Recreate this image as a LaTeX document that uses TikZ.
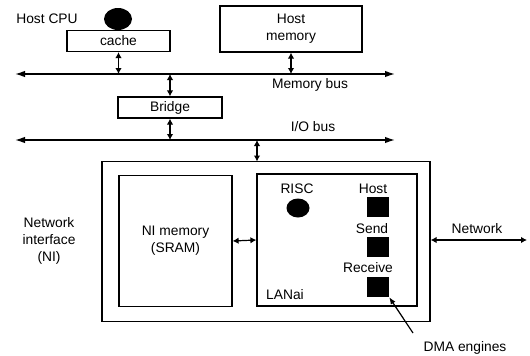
\documentclass[tikz,border=0pt]{standalone}
\usepackage{fontspec}
\setmainfont{Liberation Sans}
\usetikzlibrary{arrows.meta,shapes.geometric}
\begin{document}
\begin{tikzpicture}[x=1pt,y=-1pt,
  font=\fontsize{13.8}{17}\selectfont,
  box/.style={draw,line width=1.2pt,inner sep=0pt},
  blob/.style={fill=black,ellipse,inner sep=0pt},
  sq/.style={fill=black,minimum width=22pt,minimum height=20pt,inner sep=0pt},
  lbl/.style={inner sep=0pt},
  link/.style={line width=1.2pt,{Latex[length=6pt,width=6.5pt]}-{Latex[length=6pt,width=6.5pt]}},
  bus/.style={line width=1.4pt,{Latex[length=10pt,width=6.5pt]}-{Latex[length=10pt,width=6.5pt]}}]
\useasboundingbox (0,0) rectangle (530,356);
% host side
\node[lbl] (hostcpu) at (47,19) {Host CPU};
\node[box,minimum width=103pt,minimum height=21pt] (cache) at (118.5,41) {cache};
\node[blob,minimum width=28pt,minimum height=22pt] (cpu) at (118,19) {};
\node[box,minimum width=142pt,minimum height=46pt,align=center] (hmem) at (291,29) {Host\\memory};
\coordinate (mbL) at (15,74);
\coordinate (mbR) at (395,74);
\draw[bus] (mbL) -- (mbR);
\node[lbl] (mblabel) at (310,85) {Memory bus};
\draw[link] (cache.south) -- (cache.south |- mbL);
\draw[link] (hmem.south) -- (hmem.south |- mbL);
\node[box,minimum width=104pt,minimum height=21pt] (bridge) at (170,107.5) {Bridge};
\draw[link] (bridge.north |- mbL) -- (bridge.north);
\coordinate (ioL) at (15,140);
\coordinate (ioR) at (395,140);
\draw[bus] (ioL) -- (ioR);
\node[lbl] (iolabel) at (313,127) {I/O bus};
\draw[link] (bridge.south) -- (bridge.south |- ioL);
% network interface
\node[box,minimum width=328pt,minimum height=160pt] (ni) at (266,241.5) {};
\coordinate (niTop) at (257,161.5);
\draw[link] (niTop |- ioL) -- (niTop);
\node[lbl,align=center] (nilabel) at (49,241) {Network\\interface\\(NI)};
\node[box,minimum width=113pt,minimum height=131pt,align=center] (nimem) at (175.5,241) {NI memory\\(SRAM)};
\node[box,minimum width=160pt,minimum height=132pt] (lanai) at (337,240) {};
\draw[link] (nimem.east) -- (lanai.west);
\node[lbl] (risc) at (297,189) {RISC};
\node[blob,minimum width=23pt,minimum height=19pt] (riscdot) at (298,208) {};
\node[lbl] (hostl) at (373,189) {Host};
\node[sq] (hostsq) at (378,207) {};
\node[lbl] (sendl) at (372,229) {Send};
\node[sq] (sendsq) at (378,247) {};
\node[lbl] (recvl) at (368,268) {Receive};
\node[sq] (recvsq) at (378,287) {};
\node[lbl] (lanail) at (285,295) {LANai};
\coordinate (netR) at (527,240);
\draw[link] (ni.east |- netR) -- (netR);
\node[lbl] (netlabel) at (477,229) {Network};
\node[lbl] (dma) at (465,348) {DMA engines};
\coordinate (dmaS) at (413,333);
\draw[line width=1.2pt,-{Latex[length=7pt,width=5.5pt]}] (dmaS) -- (recvsq.south east);
\end{tikzpicture}
\end{document}
